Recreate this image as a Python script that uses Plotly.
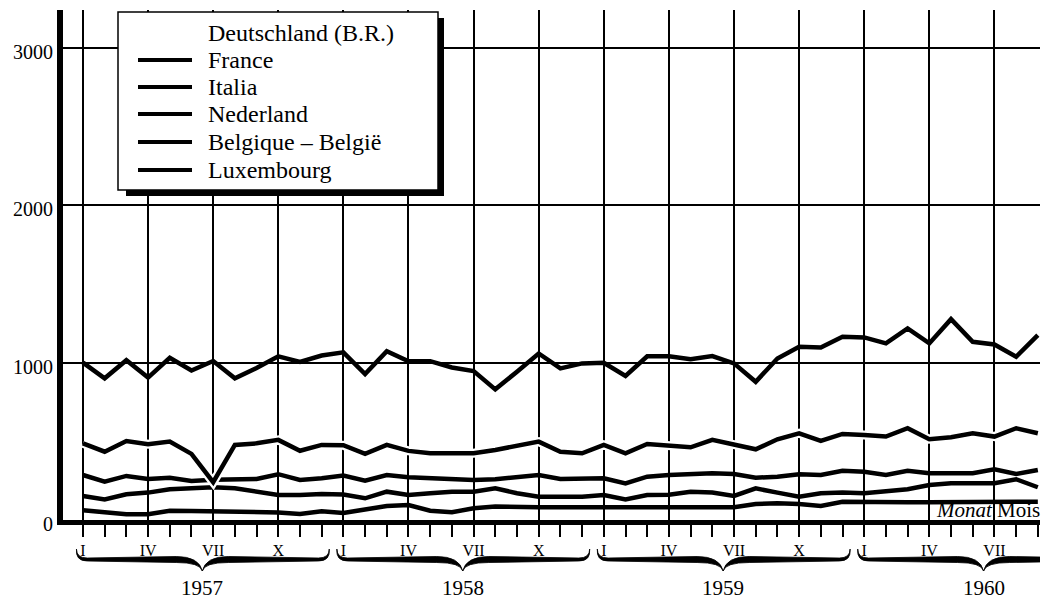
import plotly.graph_objects as go

# ---------------- data (monthly, Jan 1957 .. Sep 1960) ----------------
months = list(range(45))
years = [1957, 1958, 1959, 1960]
quarter_labels = ["I", "IV", "VII", "X"]
y_ticks = [0, 1000, 2000, 3000]
legend_names = ["Deutschland (B.R.)", "France", "Italia", "Nederland",
                "Belgique – België", "Luxembourg"]

france = [1000, 900, 1015, 905, 1030, 950, 1010, 900, 965, 1040, 1005, 1045,
          1065, 927, 1073, 1009, 1009, 969, 946, 830, 942, 1058, 963, 995,
          999, 915, 1040, 1040, 1022, 1041, 995, 878, 1026, 1100, 1096, 1164,
          1160, 1122, 1217, 1122, 1276, 1132, 1115, 1037, 1175]
belgique = [487, 434, 502, 481, 498, 420, 240, 477, 487, 509, 440, 477,
            475, 420, 477, 439, 424, 424, 424, 445, 470, 498, 434, 424,
            477, 424, 483, 472, 462, 509, 477, 449, 513, 551, 502, 547,
            540, 530, 583, 513, 526, 551, 530, 583, 551]
luxembourg = [286, 244, 280, 261, 269, 248, 255, 261, 261, 291, 254, 265,
              282, 250, 286, 271, 265, 261, 254, 259, 271, 286, 261, 265,
              265, 233, 275, 286, 291, 297, 292, 269, 275, 291, 286, 313,
              307, 286, 313, 297, 297, 297, 322, 292, 318]
italia = [153, 131, 163, 174, 195, 201, 208, 201, 180, 159, 159, 165,
          162, 138, 180, 159, 170, 180, 180, 201, 170, 148, 148, 148,
          159, 131, 159, 160, 180, 174, 153, 201, 174, 148, 170, 174,
          170, 180, 195, 222, 233, 233, 233, 259, 208]
nederland = [62, 48, 37, 36, 58, 57, 56, 56, 55, 48, 38, 55,
             45, 68, 89, 95, 59, 49, 74, 85, 81, 81, 81, 81,
             81, 81, 81, 81, 81, 81, 81, 102, 106, 102, 89, 116,
             113, 113, 113, 113, 113, 113, 113, 113, 116]

# ---------------- geometry helpers ----------------
W, H = 1043, 599
ML, MR, MT, MB = 63, 3, 10, 79
PW, PH = W - ML - MR, H - MT - MB
SERIF = "Liberation Serif, DejaVu Serif, serif"


def px(x):
    return (x - ML) / PW


def py(y):
    return (H - MB - y) / PH


fig = go.Figure()

LW = 4.5
for name, vals in [("Nederland", nederland), ("Italia", italia),
                   ("Luxembourg", luxembourg)]:
    fig.add_trace(go.Scatter(x=months, y=vals, mode="lines", name=name,
                             line=dict(color="black", width=LW),
                             showlegend=False, hoverinfo="skip"))
# white halo under Belgique line (as in the printed original)
fig.add_trace(go.Scatter(x=months, y=belgique, mode="lines",
                         line=dict(color="white", width=9),
                         showlegend=False, hoverinfo="skip"))
for name, vals in [("Belgique – België", belgique), ("France", france)]:
    fig.add_trace(go.Scatter(x=months, y=vals, mode="lines", name=name,
                             line=dict(color="black", width=LW),
                             showlegend=False, hoverinfo="skip"))

tickvals = list(range(0, 45, 3))
ticktext = [quarter_labels[i % 4] for i in range(len(tickvals))]

shapes = []
annotations = []


# ---------- curly braces under each year ----------
def brace(s, e, m):
    a, b, c, d = py(549), py(558), py(561), py(571)
    b2, c2 = py(556.5), py(562.5)
    return (f"M {s},{a} Q {s},{b} {s+0.5},{b} "
            f"L {m-1.2},{b2} Q {m-0.15},{b2} {m},{d} "
            f"Q {m+0.15},{b2} {m+1.2},{b2} "
            f"L {e-0.5},{b} Q {e},{b} {e},{a} "
            f"Q {e+0.05},{c} {e-0.5},{c} "
            f"L {m+1.2},{c2} Q {m+0.1},{c2} {m},{d} "
            f"Q {m-0.1},{c2} {m-1.2},{c2} "
            f"L {s+0.5},{c} Q {s-0.05},{c} {s},{a} Z")


for k, yr in enumerate(years):
    s, e, m = 12 * k - 0.3, 12 * k + 11.35, 12 * k + 5.5
    shapes.append(dict(type="path", xref="x", yref="paper", path=brace(s, e, m),
                       fillcolor="black", line=dict(color="black", width=0.8),
                       layer="above"))
    annotations.append(dict(x=m, y=py(588), xref="x", yref="paper", text=str(yr),
                            showarrow=False, xanchor="center", yanchor="middle",
                            font=dict(family=SERIF, size=21, color="black")))

# ---------- legend box (drawn by hand, as in the original) ----------
shapes.append(dict(type="rect", xref="paper", yref="paper",
                   x0=px(126), x1=px(444), y0=py(196), y1=py(18),
                   fillcolor="black", line=dict(width=0), layer="above"))
shapes.append(dict(type="rect", xref="paper", yref="paper",
                   x0=px(118), x1=px(438), y0=py(190), y1=py(12),
                   fillcolor="white", line=dict(color="black", width=1.5),
                   layer="above"))
rows = [33, 60, 87, 114, 142, 170]
for i, (name, ry) in enumerate(zip(legend_names, rows)):
    if i > 0:
        shapes.append(dict(type="line", xref="paper", yref="paper",
                           x0=px(138), x1=px(192), y0=py(ry), y1=py(ry),
                           line=dict(color="black", width=4), layer="above"))
    annotations.append(dict(x=px(206), y=py(ry), xref="paper", yref="paper",
                            text=name, showarrow=False, xanchor="left",
                            yanchor="middle",
                            font=dict(family=SERIF, size=24, color="black")))

annotations.append(dict(x=px(1042), y=py(510), xref="paper", yref="paper",
                        text="<i>Monat</i> Mois", showarrow=False,
                        xanchor="right", yanchor="middle",
                        font=dict(family=SERIF, size=21, color="black")))

fig.update_layout(
    width=W, height=H,
    margin=dict(l=ML, r=MR, t=MT, b=MB, pad=0),
    plot_bgcolor="white", paper_bgcolor="white",
    showlegend=False,
    shapes=shapes, annotations=annotations,
    xaxis=dict(range=[-0.92, 44.1], tickmode="array", tickvals=tickvals,
               ticktext=ticktext, ticks="outside", ticklen=12, tickwidth=2,
               tickcolor="black", showgrid=True, gridcolor="black",
               gridwidth=1.5, showline=True, linewidth=5, linecolor="black",
               zeroline=False,
               tickfont=dict(family=SERIF, size=16, color="black"),
               minor=dict(tickmode="array", tickvals=months, ticks="outside",
                          ticklen=12, tickwidth=2, tickcolor="black",
                          showgrid=False)),
    yaxis=dict(range=[0, 3240], tickmode="array", tickvals=y_ticks,
               ticks="", showgrid=True, gridcolor="black", gridwidth=1.5,
               showline=True, linewidth=6, linecolor="black", zeroline=False,
               tickfont=dict(family=SERIF, size=20, color="black"),
               ticklabelshift=4),
)

fig.write_html("out.html",
               config={"displayModeBar": False},
               post_script="document.body.style.margin='0';"
                           "document.body.style.overflow='hidden';")
